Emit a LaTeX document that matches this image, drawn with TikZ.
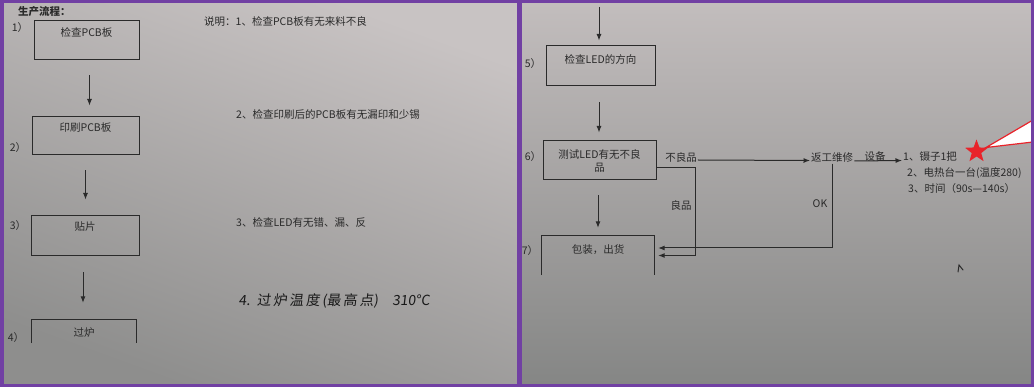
\documentclass[tikz,border=0pt]{standalone}
\usepackage{fontspec}
\newfontfamily\cjk{Noto Sans CJK SC}
\usetikzlibrary{shapes.geometric,arrows.meta,calc}
\definecolor{ink}{HTML}{2A2A2A}
\definecolor{frame}{HTML}{7140A3}
\definecolor{starred}{HTML}{E8232A}
\definecolor{paperA}{HTML}{C8C3C3}
\definecolor{paperB}{HTML}{8E8E8D}
\definecolor{paperC}{HTML}{C2BDBD}
\definecolor{paperD}{HTML}{858685}
\begin{document}
\begin{tikzpicture}[x=1pt,y=-1pt,
  every node/.style={font=\cjk\fontsize{10.5}{13}\selectfont, text=ink, inner sep=1pt},
  box/.style={draw=ink, line width=1pt, inner sep=0pt},
  openbox/.style={draw=none, inner sep=0pt},
  boxline/.style={draw=ink, line width=1pt},
  arr/.style={draw=ink, line width=1pt, -{Latex[length=6.5pt,width=5pt]}},
  hand/.style={font=\cjk\fontsize{14}{16}\selectfont, text=black!90, xslant=0.12}
]
\useasboundingbox (0,0) rectangle (1034,390);
\fill[white] (0,0) rectangle (1034,390);
% paper
\shade[top color=paperA, bottom color=paperB, shading angle=-20] (3,3) rectangle (517,384);
\shade[top color=paperC, bottom color=paperD] (522,3) rectangle (1031,384);

% ---------------- left page ----------------
\node[anchor=west, font=\cjk\bfseries\fontsize{10.5}{13}\selectfont] (title) at (17,12) {生产流程：};

\node[box, minimum width=105pt, minimum height=39pt] (b1) at (86.5,40.5) {};
\node (t1) at ([yshift=-12pt]b1.north) {检查PCB板};
\node (l1) at (20,28) {1）};

\node[box, minimum width=107pt, minimum height=38pt] (b2) at (85.5,136) {};
\node (t2) at ([yshift=-11pt]b2.north) {印刷PCB板};
\node (l2) at (18,148) {2）};

\node[box, minimum width=108pt, minimum height=40pt] (b3) at (85,236) {};
\node (t3) at ([yshift=-11pt]b3.north) {贴片};
\node (l3) at (18,226) {3）};

\node[openbox, minimum width=104pt, minimum height=23pt] (b4) at (84,331.5) {};
\draw[boxline] (b4.south west) |- (b4.north) -| (b4.south east);
\node (t4) at ([yshift=-13pt]b4.north) {过炉};
\node (l4) at (16,338) {4）};

\draw[arr, shorten <=15pt, shorten >=11pt] ([xshift=3pt]b1.south) -- ([xshift=3pt]b1.south |- b2.north);
\draw[arr, shorten <=15pt, shorten >=16pt] (b2.south) -- (b2.south |- b3.north);
\draw[arr, shorten <=16pt, shorten >=17pt] ([xshift=-2pt]b3.south) -- ([xshift=-2pt]b3.south |- b4.north);

\node[anchor=west] (n1) at (203,22) {说明：1、检查PCB板有无来料不良};
\node[anchor=west] (n2) at (235,114) {2、检查印刷后的PCB板有无漏印和少锡};
\node[anchor=west] (n3) at (235,222) {3、检查LED有无错、漏、反};
\node[anchor=west, hand] (n4) at (238,301) {4.\, 过\,炉\,温\,度\,(最\,高\,点)\quad 310°C};

% ---------------- right page ----------------
\coordinate (top) at (599,7);
\node[box, minimum width=109pt, minimum height=40pt] (b5) at (600.5,66) {};
\node (t5) at ([yshift=-14pt]b5.north) {检查LED的方向};
\node (l5) at (533,64) {5）};

\node[box, minimum width=113pt, minimum height=39pt, align=center] (b6) at (599.5,160.5) {测试LED有无不良\\品};
\node (l6) at (533,157) {6）};

\node[openbox, minimum width=112pt, minimum height=39pt] (b7) at (598,255.5) {};
\draw[boxline] (b7.south west) |- (b7.north) -| (b7.south east);
\node (t7) at ([yshift=-14pt]b7.north) {包装，出货};
\node (l7) at (530,251) {7）};

\draw[arr, shorten >=5pt] (top) -- (top |- b5.north);
\draw[arr, shorten <=16pt, shorten >=8pt] ([xshift=-1.5pt]b5.south) -- ([xshift=-1.5pt]b5.south |- b6.north);
\draw[arr, shorten <=15pt, shorten >=8pt] ([xshift=-1.5pt]b6.south) -- ([xshift=-1.5pt]b6.south |- b7.north);

\node (bad) at (681,157) {不良品};
\node[anchor=west] (repair) at (810,157.5) {返工维修};
\node (equip) at (875,157) {设备};
\node[anchor=west] (i1) at (902,157) {1、镊子1把};
\node[anchor=west] (i2) at (906,173) {2、电热台一台(温度280)};
\node[anchor=west] (i3) at (907,188.5) {3、时间（90s—140s）};

\draw[arr] ([yshift=-3pt]bad.east) -- ([yshift=-3pt]repair.west);
\draw[arr] ([yshift=-3.5pt]repair.east) -- ([yshift=-3.5pt]i1.west);

\node (good) at (681,205) {良品};
\node (ok) at (820,204) {OK};

\draw[arr, shorten >=4pt] ([yshift=-7.5pt]b6.east) -- ++(39,0) |- (b7.east);
\draw[arr, shorten >=4pt] (repair.south) |- ([yshift=7.5pt]b7.east);

% stray pen mark
\draw[ink, line width=1pt, line cap=round] (958,272) -- (959,265) -- (963,270);

% star and callout
\coordinate (ctip) at (986,147.5);
\filldraw[draw=starred, fill=white, line width=1.2pt] (ctip) -- (1033,120) -- (1033,142) -- cycle;
\node[star, star points=5, star point ratio=2.4, fill=starred, draw=none, minimum size=24pt, inner sep=0pt] (star) at (976.5,151.5) {};

% frames
\draw[frame, line width=3.5pt] (1.75,1.75) rectangle (518.5,385.5);
\draw[frame, line width=3.5pt] (520.5,1.75) rectangle (1032.25,385.5);
\end{tikzpicture}
\end{document}
